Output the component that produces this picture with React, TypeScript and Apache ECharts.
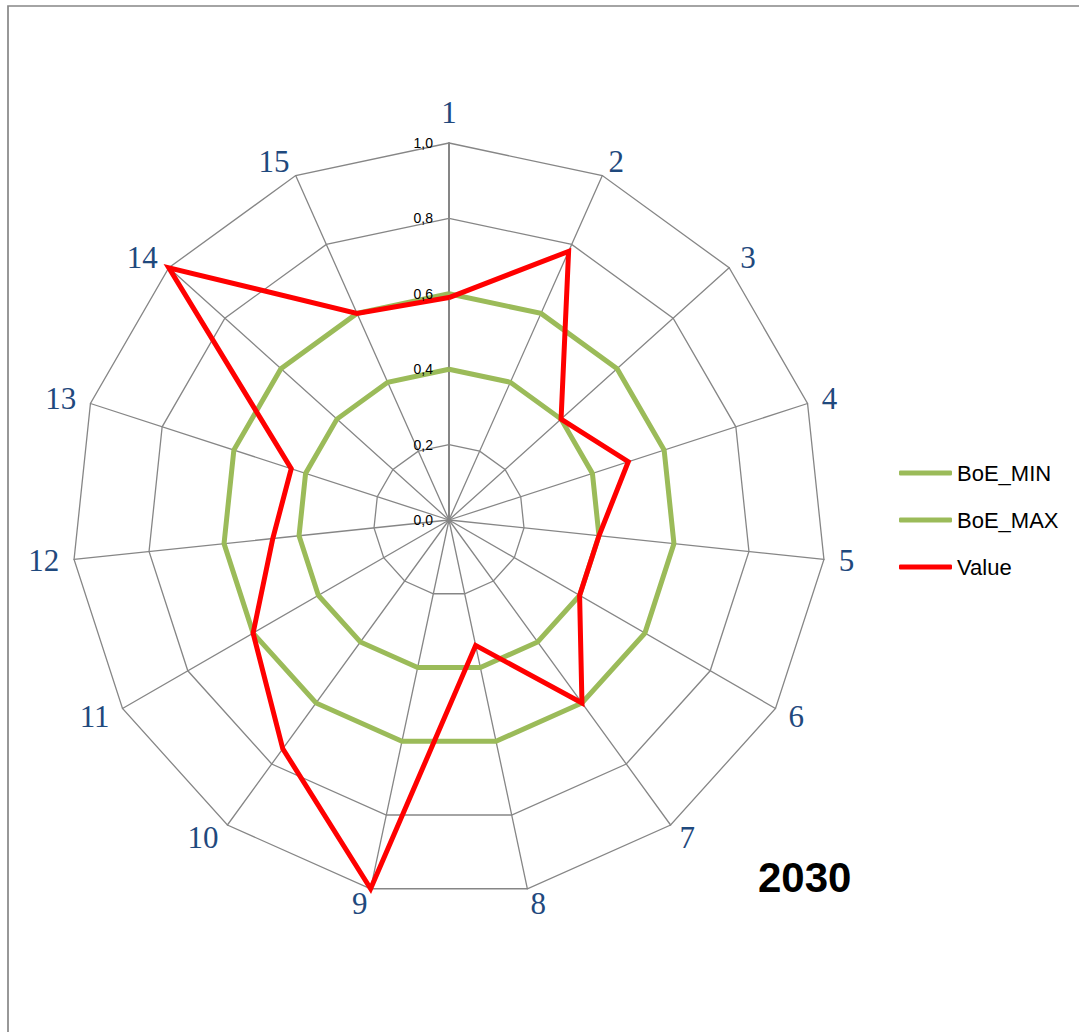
import { useEffect, useRef } from 'react';
import * as echarts from 'echarts';

const indicatorNames = ['1', '2', '3', '4', '5', '6', '7', '8', '9', '10', '11', '12', '13', '14', '15'];
const boeMin = [0.4, 0.4, 0.4, 0.4, 0.4, 0.4, 0.4, 0.4, 0.4, 0.4, 0.4, 0.4, 0.4, 0.4, 0.4];
const boeMax = [0.6, 0.6, 0.6, 0.6, 0.6, 0.6, 0.6, 0.6, 0.6, 0.6, 0.6, 0.6, 0.6, 0.6, 0.6];
const valueSeries = [0.59, 0.78, 0.4, 0.5, 0.4, 0.4, 0.6, 0.34, 1.0, 0.75, 0.6, 0.47, 0.44, 1.0, 0.6];
const seriesNames = ['BoE_MIN', 'BoE_MAX', 'Value'];
const seriesColors = ['#9BBB59', '#9BBB59', '#FF0000'];
const chartTitle = '2030';

// ECharts lays indicators out counter-clockwise; reorder so they read clockwise: 1, 15, 14, ..., 2
const order = indicatorNames.map((_, i) => (i === 0 ? 0 : indicatorNames.length - i));
const reorder = <T,>(arr: T[]) => order.map((k) => arr[k]);

export default function App() {
  const ref = useRef<HTMLDivElement>(null);
  useEffect(() => {
    if (!ref.current) return;
    const chart = echarts.init(ref.current, undefined, { renderer: 'svg' });
    const gray = '#868686';
    const seriesData = [boeMin, boeMax, valueSeries];
    const names = reorder(indicatorNames);
    const baseRadar = {
      center: [449, 520],
      radius: 377,
      startAngle: 90,
      shape: 'polygon',
      splitNumber: 5,
      nameGap: 15,
    };
    chart.setOption({
      animation: false,
      backgroundColor: '#ffffff',
      title: {
        text: chartTitle,
        left: 753,
        top: 851,
        textStyle: { fontFamily: 'Liberation Sans', fontWeight: 'bold', fontSize: 42, color: '#000000' },
      },
      legend: {
        orient: 'vertical',
        left: 894,
        top: 456,
        itemWidth: 53,
        itemHeight: 5,
        itemGap: 23,
        icon: 'roundRect',
        data: seriesNames,
        textStyle: { fontFamily: 'Liberation Sans', fontSize: 22, color: '#000000', lineHeight: 24 },
      },
      graphic: [
        {
          type: 'rect',
          shape: { x: 8, y: 6, width: 1200, height: 1200 },
          style: { fill: 'none', stroke: '#878787', lineWidth: 1.7 },
          silent: true,
        },
      ],
      radar: [
        {
          ...baseRadar,
          z: 1,
          axisName: {
            color: '#1F497D',
            fontFamily: 'Liberation Serif',
            fontSize: 31,
          },
          axisLine: { lineStyle: { color: gray, width: 1.3 } },
          splitLine: { lineStyle: { color: gray, width: 1.3 } },
          splitArea: { show: false },
          axisTick: { show: false },
          axisLabel: { show: false },
          indicator: names.map((n, i) =>
            i === 0
              ? { name: n, min: 0, max: 1, axisLine: { lineStyle: { color: gray, width: 2 } } }
              : { name: n, min: 0, max: 1 }
          ),
        },
        {
          ...baseRadar,
          z: 10,
          axisName: { show: false },
          axisLine: { show: false },
          splitLine: { show: false },
          splitArea: { show: false },
          axisTick: { show: false },
          axisLabel: { show: false },
          indicator: names.map((n, i) =>
            i === 0
              ? {
                  name: n,
                  min: 0,
                  max: 1,
                  axisLabel: {
                    show: true,
                    margin: 16,
                    color: '#000000',
                    fontFamily: 'Liberation Sans',
                    fontSize: 14,
                    formatter: (v: number) => v.toFixed(1).replace('.', ','),
                  },
                }
              : { name: n, min: 0, max: 1 }
          ),
        },
      ],
      series: [
        {
          type: 'radar',
          radarIndex: 0,
          z: 5,
          symbol: 'none',
          silent: true,
          data: seriesNames.map((name, i) => ({
            name,
            value: reorder(seriesData[i]),
            itemStyle: { color: seriesColors[i] },
            lineStyle: { color: seriesColors[i], width: 5, join: 'miter' },
          })),
        },
      ],
    });
    return () => chart.dispose();
  }, []);
  return <div ref={ref} style={{ position: 'fixed', left: 0, top: 0, width: 1079, height: 1032 }} />;
}
